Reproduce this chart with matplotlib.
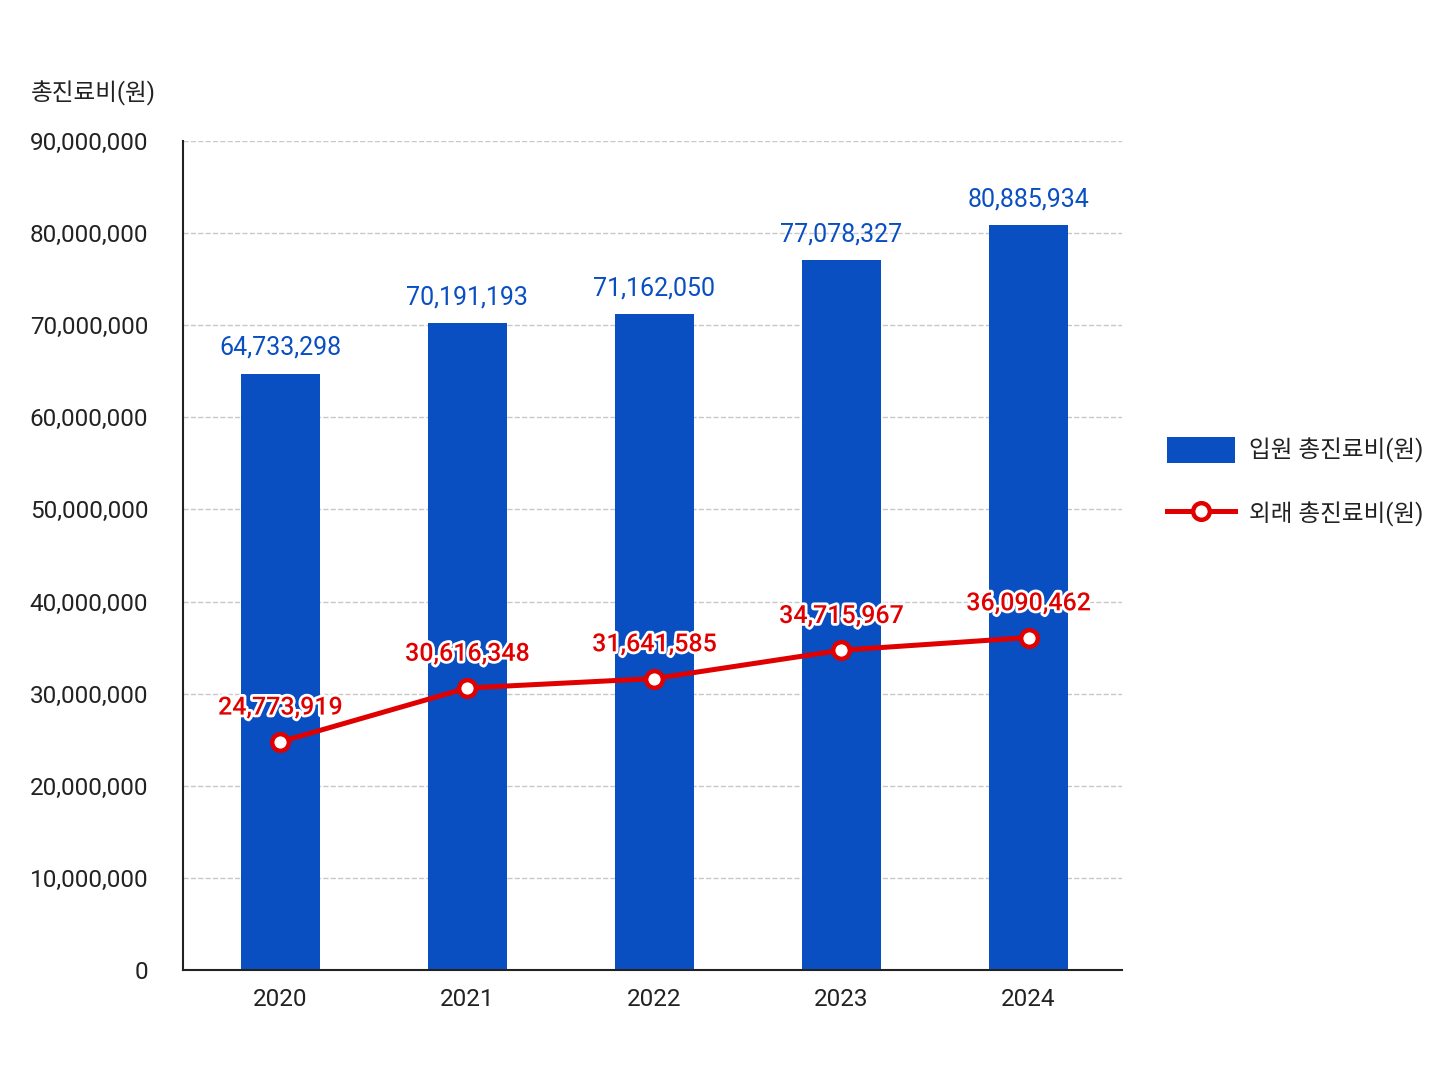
import matplotlib.pyplot as plt
import matplotlib.patheffects as pe
from matplotlib.ticker import FuncFormatter

plt.rcParams['font.family'] = ['Roboto', 'Noto Sans CJK KR', 'DejaVu Sans']

years = ["2020", "2021", "2022", "2023", "2024"]
inpatient = [64733298, 70191193, 71162050, 77078327, 80885934]
outpatient = [24773919, 30616348, 31641585, 34715967, 36090462]

blue = "#0a4fc2"
red = "#e00000"

fig = plt.figure(figsize=(14.48, 10.86), dpi=100)
ax = fig.add_axes([0.1264, 0.1068, 0.6485, 0.7634])

x = list(range(len(years)))
bars = ax.bar(x, inpatient, width=0.42, color=blue, label="입원 총진료비(원)", zorder=2)
line, = ax.plot(x, outpatient, color=red, lw=3.6, marker="o", ms=12, mfc="white",
                mec=red, mew=3.2, label="외래 총진료비(원)", zorder=4)

for xi, v in zip(x, inpatient):
    ax.annotate(f"{v:,}", (xi, v), xytext=(0, 10), textcoords="offset points",
                ha="center", va="bottom", color=blue, fontsize=18, zorder=5)
for xi, v in zip(x, outpatient):
    ax.annotate(f"{v:,}", (xi, v), xytext=(0, 16), textcoords="offset points",
                ha="center", va="bottom", color=red, fontsize=18, fontweight="medium",
                zorder=5, path_effects=[pe.withStroke(linewidth=4, foreground="white")])

ax.set_ylim(0, 90000000)
ax.set_xlim(-0.52, 4.5)
ax.set_yticks(range(0, 90000001, 10000000))
ax.yaxis.set_major_formatter(FuncFormatter(lambda v, p: f"{int(v):,}"))
ax.set_xticks(x)
ax.set_xticklabels(years)
ax.tick_params(axis="both", length=0, labelsize=17.5, colors="#222222")
ax.tick_params(axis="y", pad=25)
ax.tick_params(axis="x", pad=13)
ax.grid(axis="y", ls="--", color="#c8c8c8", lw=1, zorder=0)
for s in ["top", "right"]:
    ax.spines[s].set_visible(False)
for s in ["left", "bottom"]:
    ax.spines[s].set_color("#222222")
    ax.spines[s].set_linewidth(1.5)

fig.text(0.021, 0.914, "총진료비(원)", fontsize=17, color="#222222", va="center")

ax.legend([bars, line], ["입원 총진료비(원)", "외래 총진료비(원)"],
          loc="center left", bbox_to_anchor=(0.791, 0.556), bbox_transform=fig.transFigure,
          frameon=False, fontsize=17, handlelength=2.9, handleheight=1.3,
          labelspacing=1.6, handletextpad=0.6, labelcolor="#222222")

fig.savefig("out.png", dpi=100, facecolor="white")
